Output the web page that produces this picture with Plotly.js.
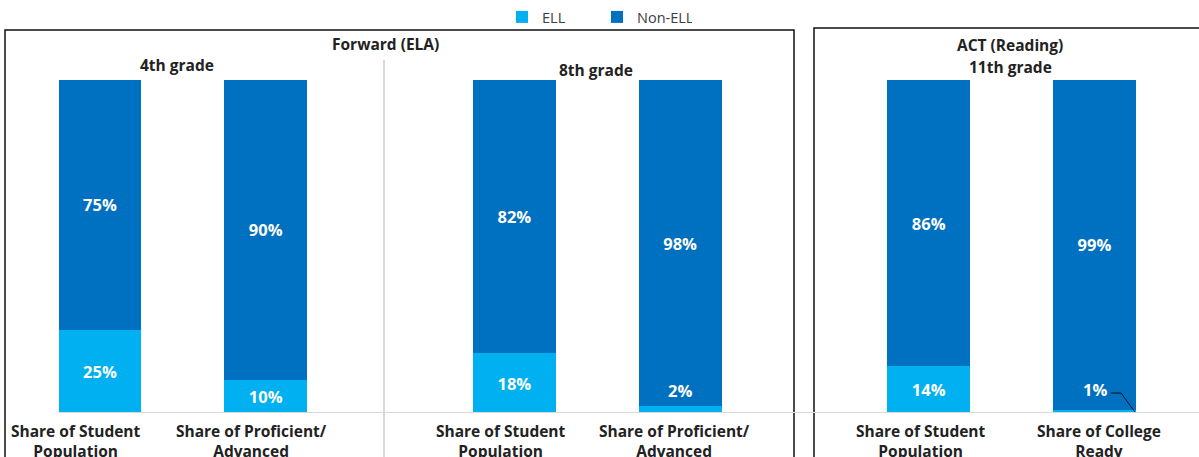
<!DOCTYPE html>
<html>
<head>
<meta charset="utf-8">
<script src="https://cdn.plot.ly/plotly-3.0.1.min.js"></script>
<style>html,body{margin:0;padding:0;background:#fff;}#chart{width:1199px;height:457px;}</style>
</head>
<body>
<div id="chart"></div>
<script>
// ---- data ----
const categories = [
  "Share of Student<br>Population",
  "Share of Proficient/<br>Advanced",
  "Share of Student<br>Population",
  "Share of Proficient/<br>Advanced",
  "Share of Student<br>Population",
  "Share of College<br>Ready"
];
const groups = ["4th grade", "4th grade", "8th grade", "8th grade", "11th grade", "11th grade"];
const ellValues = [25, 10, 18, 2, 14, 1];
const nonEllValues = [75, 90, 82, 98, 86, 99];
const seriesNames = ["ELL", "Non-ELL"];
const panelTitles = ["Forward (ELA)", "4th grade", "8th grade", "ACT (Reading)", "11th grade"];

// ---- styles / layout ----
const slotPos = [0, 1, 2.5, 3.5, 5, 6];          // bar slots on the x axis
const labelShift = [-24, -14, -13, -6, -8, 4];    // category label offsets (px)
const ELL_COLOR = "#00B0F0", NON_COLOR = "#0070C0";
const FONT = "Open Sans, Noto Sans, sans-serif";
const W = 1199;
const px = v => v / W;

const ellText = ellValues.map(v => v >= 5 ? v + "%" : "");
const ellTrace = {
  type: "bar", name: seriesNames[0], x: slotPos, y: ellValues.map(v => v / 100),
  marker: {color: ELL_COLOR, line: {width: 0}}, width: 0.5,
  text: ellText, textposition: "inside", insidetextanchor: "middle",
  textfont: {color: "#fff", size: 16.5, family: FONT, weight: "bold"},
  constraintext: "none", hoverinfo: "skip"
};
const nonTrace = {
  type: "bar", name: seriesNames[1], x: slotPos, y: nonEllValues.map(v => v / 100),
  marker: {color: NON_COLOR, line: {width: 0}}, width: 0.5,
  text: nonEllValues.map(v => v + "%"), textposition: "inside", insidetextanchor: "middle",
  textfont: {color: "#fff", size: 16.5, family: FONT, weight: "bold"},
  constraintext: "none", hoverinfo: "skip"
};

const annotations = [];
// category labels
categories.forEach((c, i) => annotations.push({
  xref: "x", yref: "paper", x: slotPos[i], y: 0, yanchor: "top", xanchor: "center",
  xshift: labelShift[i], yshift: -5, text: "<b>" + c + "</b>", showarrow: false, align: "center",
  font: {family: FONT, size: 15.5, color: "#222"}
}));
// small ELL labels placed above their sliver
const smallShift = {3: 0, 5: 7};
ellValues.forEach((v, i) => {
  if (v < 5) annotations.push({
    xref: "x", yref: "y", x: slotPos[i], y: v / 100, yanchor: "bottom", xanchor: "center",
    yshift: smallShift[i] || 2, text: "<b>" + v + "%</b>", showarrow: false,
    font: {family: FONT, size: 16.5, color: "#fff"}
  });
});
// panel titles
const titlePos = [[385, 44], [177, 65], [596, 70], [1010, 45], [1010, 67]];
const pyOf = p => (413 - p) / 333;
panelTitles.forEach((t, i) => annotations.push({
  xref: "paper", yref: "paper", x: px(titlePos[i][0]), y: pyOf(titlePos[i][1]),
  xanchor: "center", yanchor: "middle", text: "<b>" + t + "</b>", showarrow: false,
  font: {family: FONT, size: 15.5, color: "#222"}
}));

const shapes = [
  // left box (Forward)
  {type: "rect", xref: "paper", yref: "paper", x0: px(5), x1: px(794), y0: -0.3, y1: pyOf(30),
   line: {color: "#111", width: 1.5}, fillcolor: "rgba(0,0,0,0)", layer: "above"},
  // right box (ACT)
  {type: "rect", xref: "paper", yref: "paper", x0: px(814), x1: 1.02, y0: -0.3, y1: pyOf(28),
   line: {color: "#111", width: 1.5}, fillcolor: "rgba(0,0,0,0)", layer: "above"},
  // separator between 4th and 8th grade
  {type: "line", xref: "paper", yref: "paper", x0: px(384), x1: px(384), y0: -0.3, y1: pyOf(60),
   line: {color: "#d9d9d9", width: 2}, layer: "below"},
  // baseline
  {type: "line", xref: "paper", yref: "y", x0: px(59), x1: 1, y0: 0, y1: 0,
   line: {color: "#d9d9d9", width: 2}, layer: "above"},
  // leader line for 1%
  {type: "path", xref: "x", yref: "y",
   path: "M " + (slotPos[5] + 0.1) + " 0.060 L " + (slotPos[5] + 0.16) + " 0.060 L " + (slotPos[5] + 0.244) + " 0.003",
   line: {color: "#111", width: 1}, layer: "above"}
];

const layout = {
  width: 1199, height: 457,
  margin: {l: 0, r: 0, t: 80, b: 44, pad: 0},
  paper_bgcolor: "#fff", plot_bgcolor: "rgba(0,0,0,0)",
  barmode: "stack",
  xaxis: {range: [-100 / 165.75, (W - 100) / 165.75], showgrid: false, zeroline: false,
          showticklabels: false, ticks: "", showline: false, fixedrange: true},
  yaxis: {range: [0, 1], showgrid: false, zeroline: false, showticklabels: false,
          ticks: "", showline: false, fixedrange: true},
  showlegend: true,
  legend: {orientation: "h", x: px(502), y: pyOf(17), xanchor: "left", yanchor: "middle",
           font: {family: FONT, size: 14.5, color: "#404040"}, traceorder: "normal",
           entrywidth: 50, entrywidthmode: "pixels", itemwidth: 30, bgcolor: "rgba(0,0,0,0)"},
  annotations: annotations, shapes: shapes,
  font: {family: FONT}
};

Plotly.newPlot("chart", [ellTrace, nonTrace], layout, {displayModeBar: false, staticPlot: true});
</script>
</body>
</html>
